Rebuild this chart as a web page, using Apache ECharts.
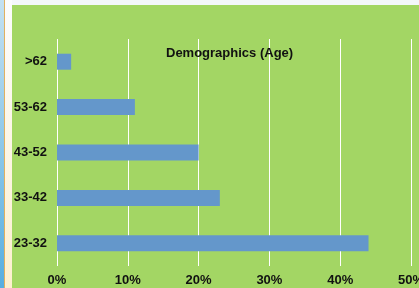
<!DOCTYPE html>
<html>
<head>
<meta charset="utf-8">
<script src="https://cdn.jsdelivr.net/npm/echarts@6/dist/echarts.min.js"></script>
<style>
  html, body { margin: 0; padding: 0; width: 419px; height: 288px; overflow: hidden; background: #f4f7fb; }
  #side { position: absolute; left: 0; top: 0; width: 4px; height: 288px; background: linear-gradient(#c4e1f1, #58aee0); }
  #edge { position: absolute; left: 4px; top: 0; width: 8px; height: 288px; background: linear-gradient(#fbfcfd, #fdf0cf); border-left: 1px solid #e0b060; box-sizing: border-box; }
  #chart { position: absolute; left: 12px; top: 5px; width: 407px; height: 283px; }
</style>
</head>
<body>
<div id="side"></div>
<div id="edge"></div>
<div id="chart"></div>
<script>
  var ageGroups = ['23-32', '33-42', '43-52', '53-62', '>62'];
  var shares = [44, 23, 20, 11, 2];

  var myChart = echarts.init(document.getElementById('chart'));
  myChart.setOption({
    backgroundColor: '#a3d664',
    animation: false,
    title: {
      text: 'Demographics (Age)',
      left: 149,
      top: 37,
      textStyle: { fontFamily: 'Liberation Sans', fontSize: 13, fontWeight: 'bold', color: '#111' }
    },
    grid: { left: 45, right: 8, top: 34, bottom: 22, outerBoundsMode: 'none', containLabel: false },
    xAxis: {
      type: 'value',
      min: 0,
      max: 50,
      interval: 10,
      axisLine: { show: false },
      axisTick: { show: false },
      splitLine: { lineStyle: { color: '#ffffff', width: 1 } },
      axisLabel: {
        formatter: '{value}%',
        margin: 8,
        fontFamily: 'Liberation Sans',
        fontSize: 13,
        fontWeight: 'bold',
        color: '#111'
      }
    },
    yAxis: {
      type: 'category',
      data: ageGroups,
      axisLine: { show: false },
      axisTick: { show: false },
      axisLabel: {
        margin: 10,
        fontFamily: 'Liberation Sans',
        fontSize: 13,
        fontWeight: 'bold',
        color: '#111'
      }
    },
    series: [{
      type: 'bar',
      data: shares,
      barWidth: 16,
      itemStyle: { color: '#6497cb' }
    }]
  });
</script>
</body>
</html>
